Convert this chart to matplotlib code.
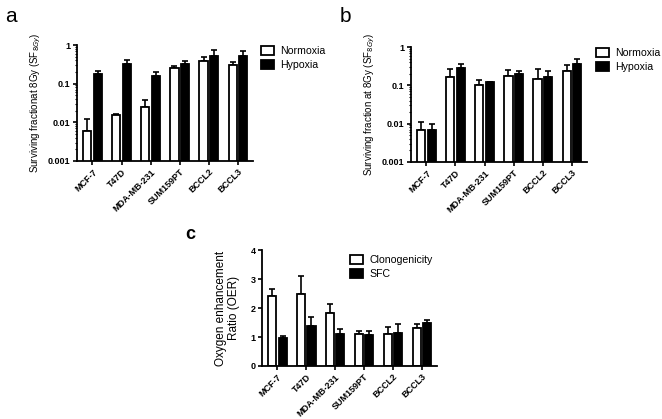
import numpy as np
import matplotlib
matplotlib.use("Agg")
import matplotlib.pyplot as plt

plt.rcParams['font.family'] = ['Liberation Sans', 'DejaVu Sans']

cells = ['MCF-7', 'T47D', 'MDA-MB-231', 'SUM159PT', 'BCCL2', 'BCCL3']

# panel a: surviving fraction at 8Gy
a_norm = [0.006, 0.0155, 0.025, 0.25, 0.38, 0.30]
a_norm_err = [0.006, 0.0005, 0.013, 0.03, 0.12, 0.07]
a_hyp = [0.18, 0.33, 0.16, 0.33, 0.52, 0.53]
a_hyp_err = [0.03, 0.08, 0.04, 0.06, 0.23, 0.15]

# panel b
b_norm = [0.007, 0.165, 0.105, 0.175, 0.145, 0.23]
b_norm_err = [0.004, 0.095, 0.03, 0.075, 0.115, 0.11]
b_hyp = [0.007, 0.28, 0.12, 0.195, 0.165, 0.37]
b_hyp_err = [0.003, 0.07, 0.002, 0.045, 0.065, 0.13]

# panel c: OER
c_clono = [2.42, 2.5, 1.83, 1.1, 1.12, 1.32]
c_clono_err = [0.23, 0.6, 0.32, 0.1, 0.21, 0.13]
c_sfc = [0.97, 1.38, 1.1, 1.08, 1.14, 1.48]
c_sfc_err = [0.06, 0.3, 0.18, 0.12, 0.31, 0.12]

x = np.arange(len(cells))
off = 0.18
w = 0.28


def draw(ax, v1, e1, v2, e2, names, log):
    ax.bar(x - off, v1, w, color='white', edgecolor='black', linewidth=1.3,
           label=names[0], zorder=2)
    ax.bar(x + off, v2, w, color='black', edgecolor='black', linewidth=1.3,
           label=names[1], zorder=2)
    for xs, v, e in [(x - off, v1, e1), (x + off, v2, e2)]:
        ax.errorbar(xs, v, yerr=[np.zeros(len(v)), e], fmt='none',
                    ecolor='black', elinewidth=1.2, capsize=2.5, capthick=1.2,
                    zorder=1)
    ax.set_xlim(-0.53, 5.52)
    ax.set_xticks(x)
    ax.set_xticklabels(cells, rotation=45, ha='right', rotation_mode='anchor',
                       fontsize=6.5, fontweight='bold')
    for s in ['top', 'right']:
        ax.spines[s].set_visible(False)
    for s in ['left', 'bottom']:
        ax.spines[s].set_linewidth(1.3)
    ax.tick_params(axis='both', which='major', length=3, width=1.2,
                   labelsize=6.5, pad=1.5)
    ax.tick_params(axis='y', which='minor', length=1.8, width=0.8)
    for lab in ax.get_yticklabels():
        lab.set_fontweight('bold')
    if log:
        ax.set_yscale('log')
        ax.set_ylim(0.001, 1)
        ax.set_yticks([0.001, 0.01, 0.1, 1])
        ax.set_yticklabels(['0.001', '0.01', '0.1', '1'], fontweight='bold')


def add_legend(ax, anchor):
    ax.legend(loc='upper left', bbox_to_anchor=anchor, frameon=False,
              fontsize=7.6, handlelength=1.25, handleheight=0.95,
              handletextpad=0.6, labelspacing=0.35, borderaxespad=0,
              borderpad=0)


fig = plt.figure(figsize=(6.62, 4.19), dpi=100)

ax_a = fig.add_axes([0.1163, 0.6158, 0.2659, 0.2768])
draw(ax_a, a_norm, a_norm_err, a_hyp, a_hyp_err, ['Normoxia', 'Hypoxia'], True)
ax_a.set_ylabel('Surviving fractionat 8Gy (SF$_{8Gy}$)', fontsize=7.0,
                labelpad=4)
add_legend(ax_a, (1.045, 0.99))

ax_b = fig.add_axes([0.6208, 0.6134, 0.2659, 0.2744])
draw(ax_b, b_norm, b_norm_err, b_hyp, b_hyp_err, ['Normoxia', 'Hypoxia'], True)
ax_b.set_ylabel('Surviving fraction at 8Gy (SF$_{8Gy}$)', fontsize=7.0,
                labelpad=4)
add_legend(ax_b, (1.05, 0.99))

ax_c = fig.add_axes([0.3958, 0.1265, 0.2643, 0.2768])
draw(ax_c, c_clono, c_clono_err, c_sfc, c_sfc_err, ['Clonogenicity', 'SFC'], False)
ax_c.set_ylim(0, 4)
ax_c.set_yticks([0, 1, 2, 3, 4])
ax_c.set_yticklabels(['0', '1', '2', '3', '4'], fontweight='bold')
ax_c.set_ylabel('Oxygen enhancement\nRatio (OER)', fontsize=8.5,
                labelpad=8, linespacing=1.1)
add_legend(ax_c, (0.503, 0.957))

fig.text(5 / 662, 1 - 22 / 419, 'a', fontsize=15)
fig.text(340 / 662, 1 - 22 / 419, 'b', fontsize=15)
fig.text(185 / 662, 1 - 239 / 419, 'c', fontsize=13, fontweight='bold')

fig.savefig('out.png', dpi=100)
